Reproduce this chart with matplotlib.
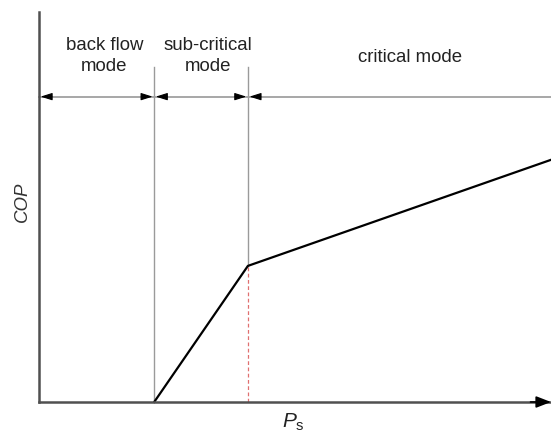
import matplotlib
matplotlib.use('Agg')
import matplotlib.pyplot as plt

plt.rcParams['font.family'] = ['Liberation Sans', 'DejaVu Sans']
plt.rcParams['mathtext.fontset'] = 'custom'
plt.rcParams['mathtext.rm'] = 'Liberation Sans'
plt.rcParams['mathtext.it'] = 'Liberation Sans:italic'

# COP curve (schematic units)
ps = [2.25, 4.08, 10.0]
cop = [0.0, 3.49, 6.21]

# mode boundaries and labels
bounds = [0.0, 2.25, 4.08, 10.0]
mode_labels = ['back flow\nmode', 'sub-critical\nmode', 'critical mode']
label_x = [1.28, 3.3, 7.25]
label_y = [8.9, 8.9, 8.87]
dim_y = 7.83
bound_top = 8.59

fig = plt.figure(figsize=(5.51, 4.35), dpi=100)
ax = fig.add_axes([39 / 551, 32 / 435, 512 / 551, 390 / 435])
ax.set_xlim(0, 10)
ax.set_ylim(0, 10)

# axes look
for s in ['top', 'right']:
    ax.spines[s].set_visible(False)
for s in ['left', 'bottom']:
    ax.spines[s].set_color('#505050')
    ax.spines[s].set_linewidth(1.8)
ax.set_xticks([])
ax.set_yticks([])

# arrow on the x-axis
ax.annotate('', xy=(10.0, 0), xytext=(9.6, 0),
            arrowprops=dict(arrowstyle='-|>,head_length=0.9,head_width=0.35',
                            color='black', lw=1.2, shrinkA=0, shrinkB=0),
            annotation_clip=False)

# boundary lines
ax.plot([bounds[1], bounds[1]], [0, bound_top], color='#9a9a9a', lw=1.0)
ax.plot([bounds[2], bounds[2]], [cop[1], bound_top], color='#9a9a9a', lw=1.0)
ax.plot([bounds[2], bounds[2]], [0, cop[1]], color='#e07070', lw=0.9,
        dashes=(3, 2))

# dimension line with arrows
ax.plot([bounds[0], bounds[-1]], [dim_y, dim_y], color='#a0a0a0', lw=1.3,
        clip_on=False)
head = dict(arrowstyle='-|>,head_length=0.7,head_width=0.22', color='black',
            lw=0.8, shrinkA=0, shrinkB=0)
for b in bounds[:3]:
    # arrow pointing left onto the boundary
    ax.annotate('', xy=(b + 0.03, dim_y), xytext=(b + 0.25, dim_y),
                arrowprops=head)
for b in bounds[1:3]:
    # arrow pointing right onto the boundary
    ax.annotate('', xy=(b - 0.03, dim_y), xytext=(b - 0.25, dim_y),
                arrowprops=head)

# mode labels
for lx, ly, lab in zip(label_x, label_y, mode_labels):
    ax.text(lx, ly, lab, ha='center', va='center', fontsize=13.4,
            color='#222222', linespacing=1.35)

# COP curve
ax.plot(ps, cop, color='black', lw=1.6, clip_on=False)

# axis labels
fig.text(22 / 551, 1 - 202 / 435, 'COP', rotation=90, style='italic',
         fontsize=13.4, ha='center', va='center', color='#333333')
fig.text(293 / 551, 1 - 422 / 435, r'$\mathit{P}_{\mathrm{s}}$',
         fontsize=15, ha='center', va='center', color='#222222')

fig.savefig('out.png', dpi=100)
